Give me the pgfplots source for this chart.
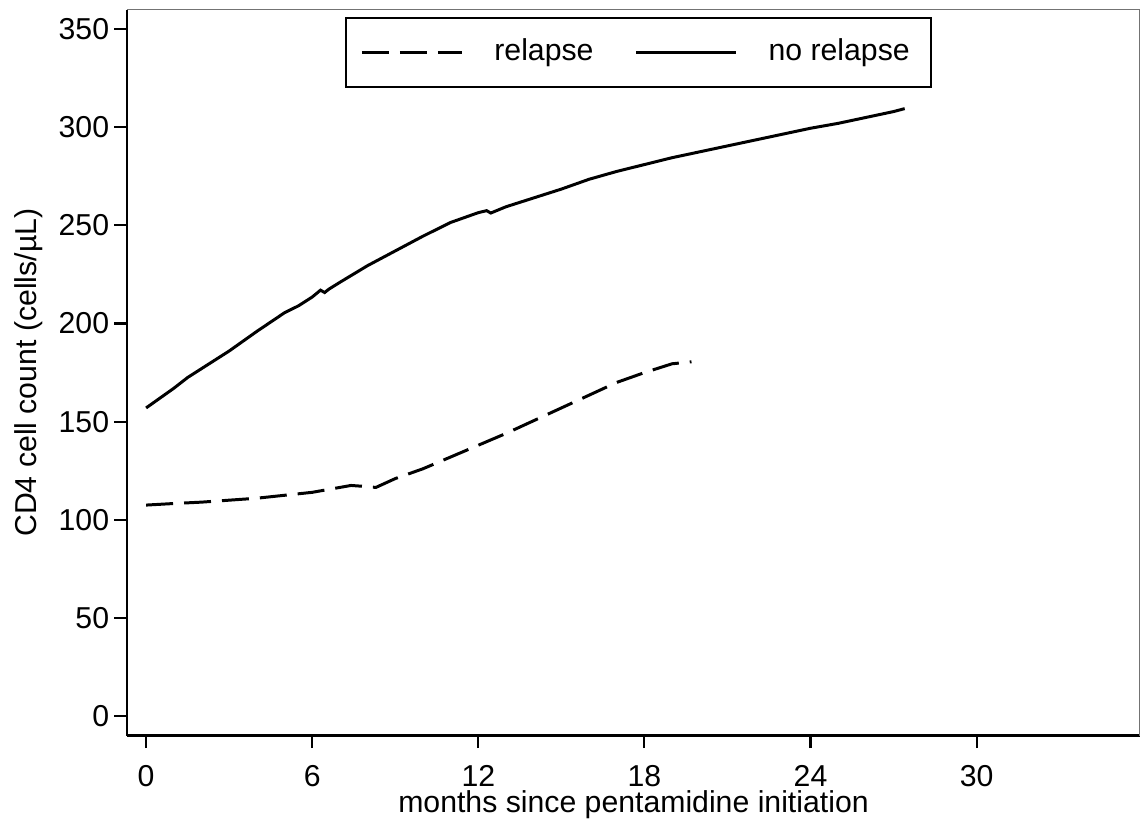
\documentclass[border=0pt]{standalone}
\usepackage{fontspec}
\setmainfont{Liberation Sans}
\usepackage{pgfplots}
\pgfplotsset{compat=1.18}

\begin{document}
\begin{tikzpicture}
\begin{axis}[
    at={(0,0)}, anchor=south west,
    scale only axis, width=101.3mm, height=72.62mm,
    xmin=-0.69, xmax=35.9, ymin=-10, ymax=360,
    xtick={0,6,12,18,24,30}, ytick={0,50,...,350},
    axis x line*=bottom, axis y line*=left,
    axis line style={black, line width=0.85pt, -},
    tick style={black, line width=0.6pt},
    major tick length=1.25mm, tick align=outside,
    minor tick num=0,
    font=\fontsize{8.6}{10}\selectfont,
    /pgf/number format/assume math mode=true,
    xticklabel style={yshift=-0.45mm},
    yticklabel style={xshift=0.7mm},
    xlabel={months since pentamidine initiation},
    ylabel={CD4 cell count (cells/µL)},
    xlabel style={at={(axis description cs:0.5,0)}, anchor=base, yshift=-7.65mm},
    ylabel style={yshift=-0.8mm},
    legend columns=2,
    legend style={at={(0.505,0.99)}, anchor=north, draw=black, line width=0.6pt,
                  font=\fontsize{8.6}{10}\selectfont,
                  inner xsep=1.4mm, inner ysep=1.4mm,
                  /tikz/every odd column/.append style={column sep=2.4mm},
                  /tikz/every even column/.append style={column sep=3.4mm}},
    legend image code/.code={\draw[#1, line width=0.85pt] (0mm,0mm) -- (10mm,0mm);},
]
\addplot[black, line width=0.85pt, dash pattern=on 2.7mm off 1.1mm] coordinates {
  (0,107.5) (1,108.3) (2,109) (3,110) (4,111) (5,112.5) (6,114)
  (6.8,116) (7.4,117.5) (7.9,117) (8.3,116.5) (9,121) (10,126)
  (11,132) (12,138) (13,144) (14,150.5) (15,157) (16,163.5)
  (17,170) (18,175) (19,179.5) (19.7,180.5)};
\addlegendentry{relapse}
\addplot[black, line width=0.85pt] coordinates {
  (0,157) (0.5,162) (1,167) (1.5,172.5) (2,177) (3,186) (4,196)
  (5,205.5) (5.5,209) (6,213.5) (6.3,217) (6.45,215.8) (6.6,217.5)
  (7,221) (8,229.5) (9,237) (10,244.5) (11,251.5) (11.5,254)
  (12,256.5) (12.3,257.5) (12.45,256.3) (13,259.5) (14,264)
  (15,268.5) (16,273.5) (17,277.5) (18,281) (19,284.5) (20,287.5)
  (21,290.5) (22,293.5) (23,296.5) (24,299.5) (25,302) (26,305)
  (27,308) (27.4,309.5)};
\addlegendentry{no relapse}
\draw[black!55, line width=0.45pt] (rel axis cs:0,1) -- (rel axis cs:1,1) -- (rel axis cs:1,0);
\end{axis}
\pgfresetboundingbox
\path[use as bounding box] (-12.7mm,-8.63mm) rectangle (101.3mm,73.57mm);
\end{tikzpicture}
\end{document}
